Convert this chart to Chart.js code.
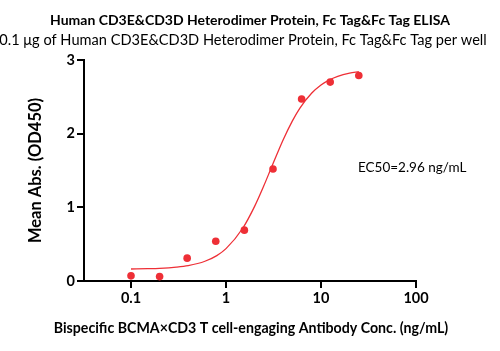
<!DOCTYPE html>
<html>
<head>
<meta charset="utf-8">
<script src="https://cdn.jsdelivr.net/npm/chart.js@4/dist/chart.umd.min.js"></script>
<style>
    html, body { margin: 0; padding: 0; background: #fff; }
    #chart { display: block; }
</style>
</head>
<body>
<canvas id="chart" width="500" height="351"></canvas>
<script>
// Measured points (ng/mL vs OD450)
const concentrations = [0.1, 0.2, 0.39, 0.78, 1.56, 3.125, 6.25, 12.5, 25];
const absorbance = [0.07, 0.06, 0.31, 0.54, 0.69, 1.52, 2.47, 2.70, 2.79];

// Fitted curve
const curveX = [0.1, 0.15, 0.2, 0.3, 0.4, 0.6, 0.8, 1, 1.5, 2, 2.5, 3, 4, 5, 6, 8, 10, 12, 15, 20, 25];
const curveY = [0.163, 0.167, 0.172, 0.188, 0.209, 0.268, 0.345, 0.439, 0.716, 1.013, 1.292, 1.538, 1.918, 2.174, 2.348, 2.552, 2.661, 2.724, 2.778, 2.822, 2.842];

const xTicks = [0.1, 1, 10, 100];
const yTicks = [0, 1, 2, 3];

const titleText = 'Human CD3E&CD3D Heterodimer Protein, Fc Tag&Fc Tag ELISA';
const subtitleText = '0.1 \u03bcg of Human CD3E&CD3D Heterodimer Protein, Fc Tag&Fc Tag per well';
const xTitleText = 'Bispecific BCMA\u00d7CD3 T cell-engaging Antibody Conc. (ng/mL)';
const ec50Text = 'EC50=2.96 ng/mL';

const red = '#ee2f36';
const fontFamily = 'Lato, "Open Sans", sans-serif';

// Titles, x axis title (wider than the axis) and EC50 label
const textPlugin = {
    id: 'texts',
    afterDraw(chart) {
        const ctx = chart.ctx;
        ctx.save();
        ctx.fillStyle = '#000';
        ctx.textAlign = 'center';
        ctx.textBaseline = 'middle';
        ctx.font = 'bold 14px ' + fontFamily;
        ctx.fillText(titleText, 250, 20);
        ctx.font = '14.6px ' + fontFamily;
        ctx.fillText(subtitleText, 243, 40);
        ctx.font = 'bold 14.2px ' + fontFamily;
        ctx.fillText(xTitleText, 251, 328);
        ctx.textAlign = 'left';
        ctx.font = '13.5px ' + fontFamily;
        ctx.fillText(ec50Text, 358, 168);
        ctx.restore();
    }
};

const pts = concentrations.map((x, i) => ({ x: x, y: absorbance[i] }));
const curve = curveX.map((x, i) => ({ x: x, y: curveY[i] }));

new Chart(document.getElementById('chart'), {
    type: 'scatter',
    data: {
        datasets: [{
            data: curve,
            showLine: true,
            borderColor: red,
            borderWidth: 1.3,
            pointRadius: 0,
            cubicInterpolationMode: 'monotone'
        }, {
            data: pts,
            backgroundColor: red,
            borderColor: red,
            pointRadius: 3.8,
            borderWidth: 0
        }]
    },
    options: {
        responsive: false,
        animation: false,
        layout: { padding: { top: 60, right: 84, left: 0, bottom: 0 } },
        plugins: {
            legend: { display: false },
            tooltip: { enabled: false }
        },
        scales: {
            x: {
                type: 'logarithmic',
                min: 0.032,
                max: 100,
                afterBuildTicks: (scale) => {
                    scale.ticks = xTicks.map(v => ({ value: v }));
                },
                afterFit: (scale) => { scale.height = 70; },
                border: { display: true, color: '#000', width: 2 },
                grid: { drawOnChartArea: false, drawTicks: true, tickLength: 7, color: '#000', lineWidth: 2 },
                ticks: {
                    color: '#000',
                    font: { family: fontFamily, size: 14.5, weight: 'bold' },
                    padding: 2,
                    maxRotation: 0,
                    callback: (v) => String(v)
                }
            },
            y: {
                min: 0,
                max: 3,
                afterBuildTicks: (scale) => {
                    scale.ticks = yTicks.map(v => ({ value: v }));
                },
                afterFit: (scale) => { scale.width = 84; },
                border: { display: true, color: '#000', width: 2 },
                grid: { drawOnChartArea: false, drawTicks: true, tickLength: 7, color: '#000', lineWidth: 2 },
                ticks: {
                    color: '#000',
                    font: { family: fontFamily, size: 14.5, weight: 'bold' },
                    padding: 2
                },
                title: {
                    display: true,
                    text: 'Mean Abs. (OD450)',
                    color: '#000',
                    font: { family: fontFamily, size: 16.5, weight: 'bold' },
                    padding: { top: 26, bottom: 0 }
                }
            }
        }
    },
    plugins: [textPlugin]
});
</script>
</body>
</html>
